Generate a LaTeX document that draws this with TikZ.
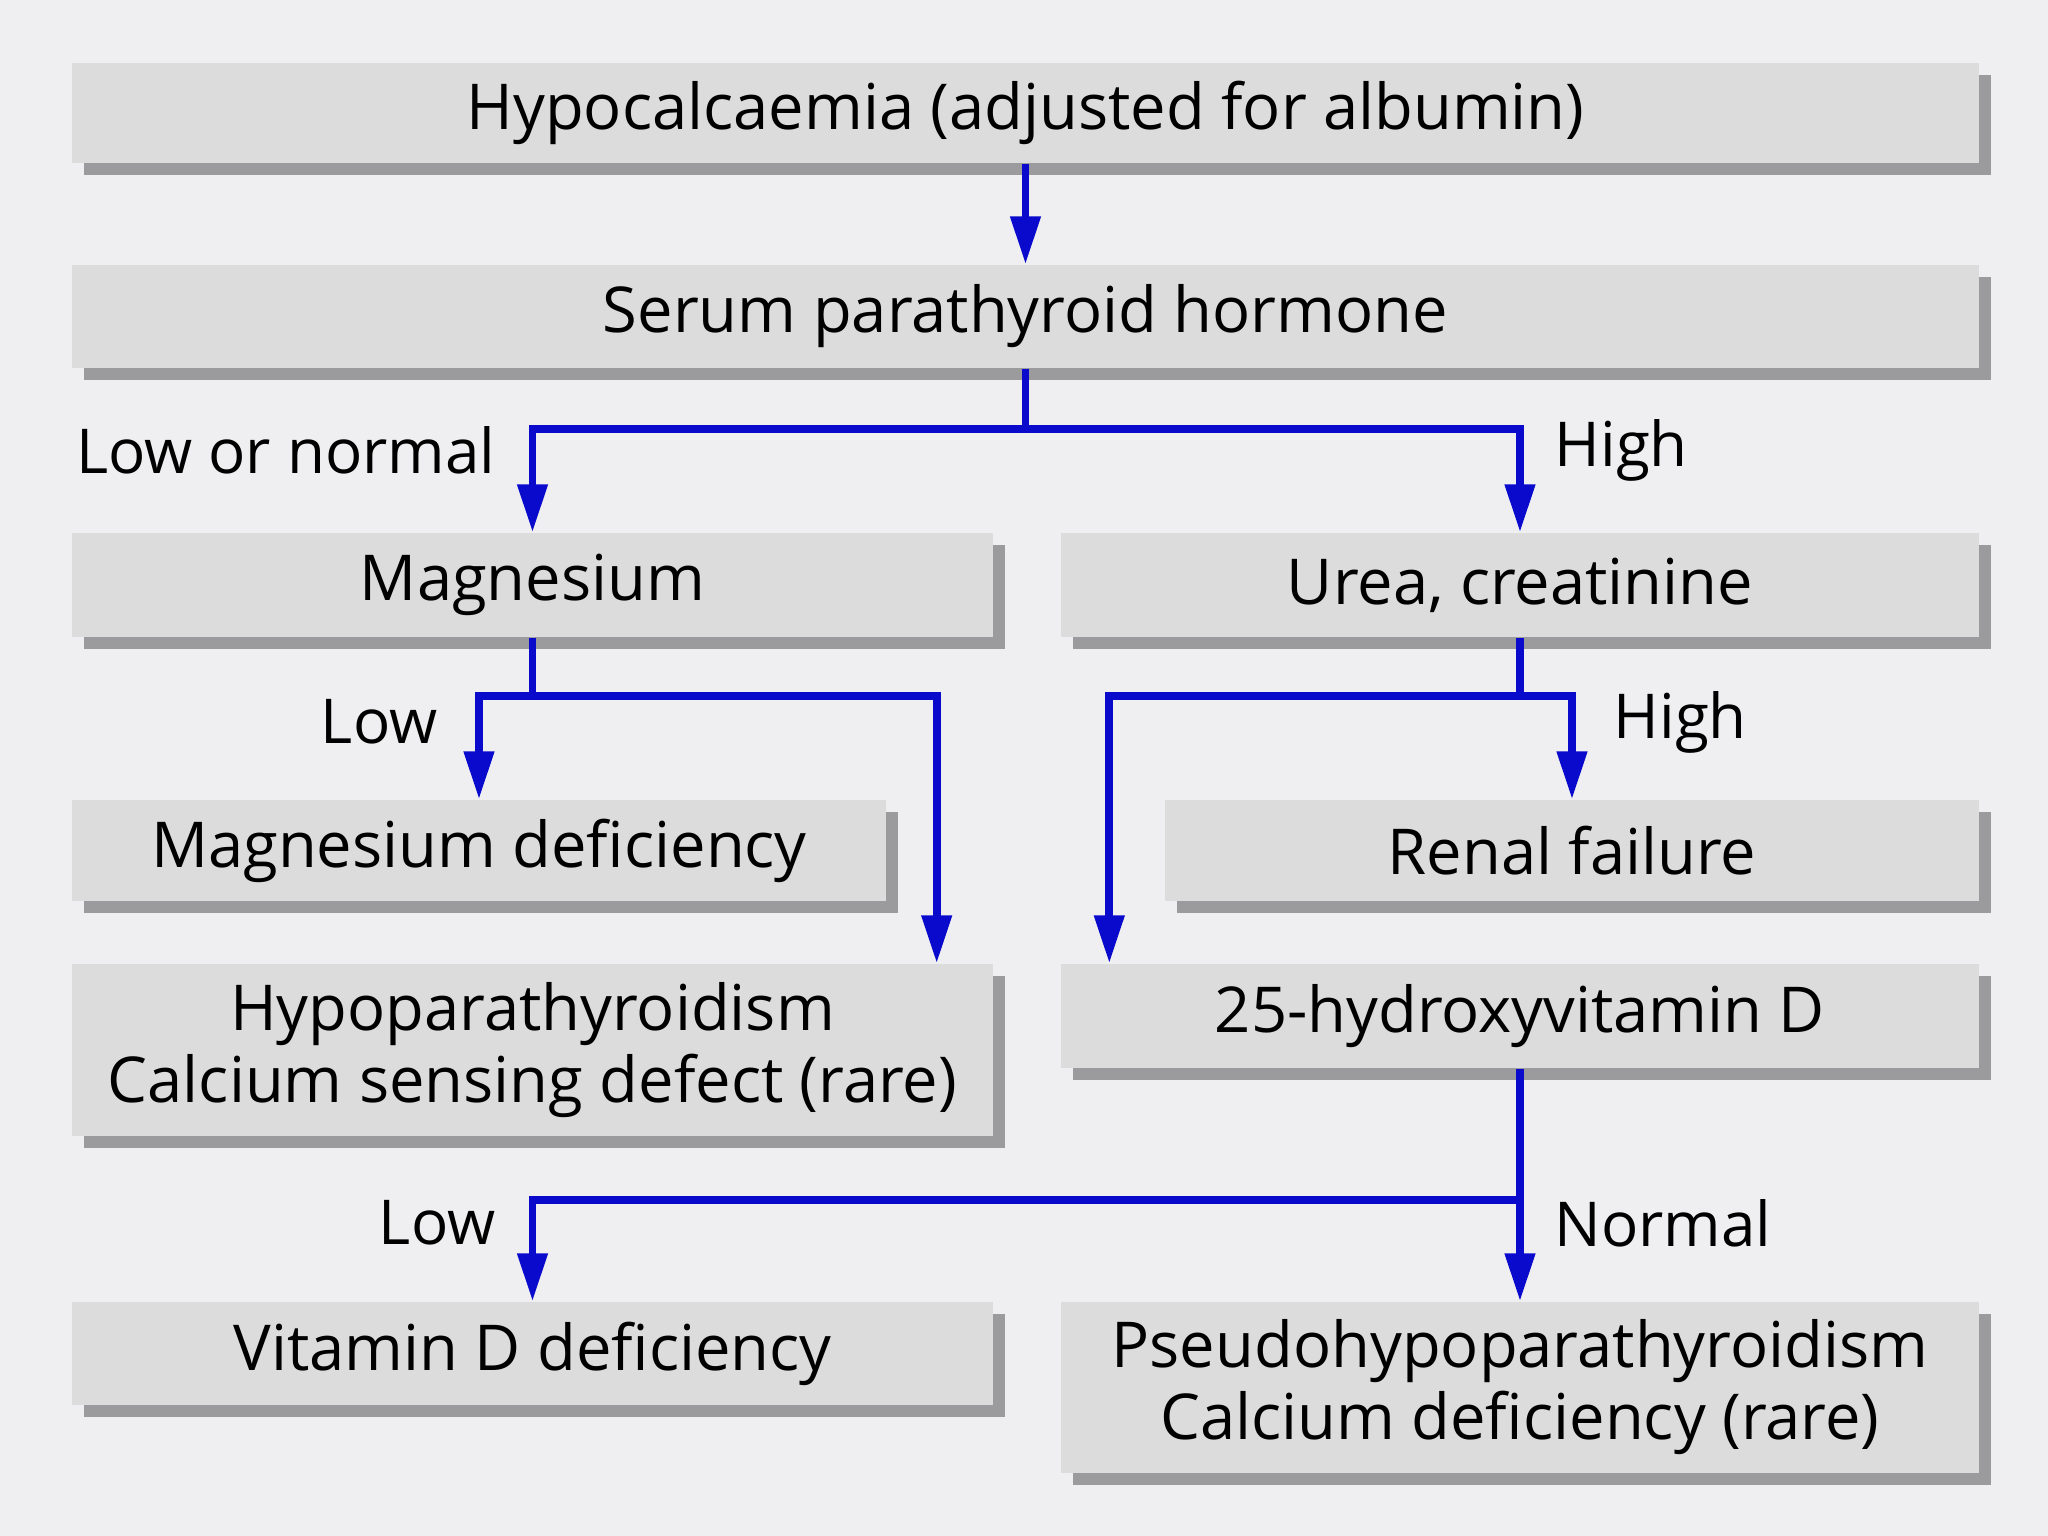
\documentclass[tikz,border=0pt]{standalone}
\usepackage{fontspec}
\setmainfont{Open Sans}
\usepackage{tikz}
\usetikzlibrary{arrows.meta, calc, shadows}

\definecolor{bgcol}{RGB}{239,239,241}
\definecolor{boxcol}{RGB}{220,220,221}
\definecolor{shadecol}{RGB}{155,155,157}
\definecolor{flowcol}{RGB}{10,10,205}

\begin{document}
\begin{tikzpicture}[line cap=butt,line join=miter,>={Triangle[length=4.8mm,width=2.9mm]},x=1.0cm,y=1.0cm,
  box/.style={rectangle, fill=boxcol, inner sep=0pt, align=center, font=\fontsize{18}{20.5}\selectfont,
    drop shadow={shadow xshift=0.12cm, shadow yshift=-0.12cm, fill=shadecol, opacity=1}},
  flow/.style={draw=flowcol, line width=2.2pt},
  lbl/.style={inner sep=0pt, font=\fontsize{17.6}{20}\selectfont}]
\fill[bgcol] (0,0) rectangle (20.48,-15.36);
\useasboundingbox (0,0) rectangle (20.48,-15.36);

% boxes
\node[box, minimum width=19.07cm, minimum height=1.00cm] (hypo) at (10.255,-1.13) {Hypocalcaemia (adjusted for albumin)};
\node[box, minimum width=19.07cm, minimum height=1.03cm] (serum) at (10.255,-3.165) {Serum parathyroid hormone};

\node[box, minimum width=9.21cm, minimum height=1.04cm] (mag) at (5.325,-5.85) {Magnesium};
\node[box, minimum width=9.18cm, minimum height=1.04cm] (urea) at (15.2,-5.85) {Urea, creatinine};

\node[box, minimum width=8.14cm, minimum height=1.01cm] (magdef) at (4.79,-8.505) {Magnesium deficiency};
\node[box, minimum width=8.14cm, minimum height=1.01cm] (renal) at (15.72,-8.505) {Renal failure};

\node[box, minimum width=9.21cm, minimum height=1.72cm] (hypopara) at (5.325,-10.5) {Hypoparathyroidism\\Calcium sensing defect (rare)};
\node[box, minimum width=9.18cm, minimum height=1.04cm] (hydroxy) at (15.2,-10.16) {25-hydroxyvitamin D};

\node[box, minimum width=9.21cm, minimum height=1.03cm] (vitd) at (5.325,-13.535) {Vitamin D deficiency};
\node[box, minimum width=9.18cm, minimum height=1.71cm] (pseudo) at (15.2,-13.875) {Pseudohypoparathyroidism\\Calcium deficiency (rare)};

% connectors
\draw[flow, ->] (hypo.south) -- (serum.north);

\draw[flow, ->] (serum.south) -- ++(0,-0.6) -| (mag.north);
\draw[flow, ->] (serum.south) -- ++(0,-0.6) -| (urea.north);

\draw[flow, ->] (mag.south) -- ++(0,-0.58) -| (magdef.north);
\draw[flow, ->] (mag.south) -- ++(0,-0.58) -| ([xshift=-0.57cm]hypopara.north east);

\draw[flow, ->] (urea.south) -- ++(0,-0.58) -| (renal.north);
\draw[flow, ->] (urea.south) -- ++(0,-0.58) -| ([xshift=0.49cm]hydroxy.north west);

\draw[flow, ->] (hydroxy.south) -- ++(0,-1.31) -| (vitd.north);
\draw[flow, ->] (hydroxy.south) -- (pseudo.north);

% branch labels
\node[lbl, anchor=east] (lownorm) at (4.96,-4.5) {Low or normal};
\node[lbl, anchor=west] (highA) at (15.54,-4.5) {High};
\node[lbl, anchor=east] (lowA) at (4.38,-7.22) {Low};
\node[lbl, anchor=west] (highB) at (16.13,-7.22) {High};
\node[lbl, anchor=east] (lowB) at (4.96,-12.23) {Low};
\node[lbl, anchor=west] (normal) at (15.54,-12.23) {Normal};
\end{tikzpicture}
\end{document}
